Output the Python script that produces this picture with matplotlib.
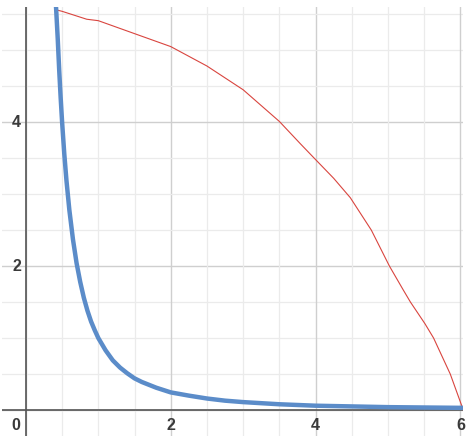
import matplotlib
matplotlib.use("Agg")
import matplotlib.pyplot as plt

# Blue curve (thick)
blue_x = [0.415, 0.44, 0.46, 0.48, 0.50, 0.53, 0.56, 0.60, 0.65, 0.70, 0.75, 0.80,
          0.85, 0.90, 0.95, 1.00, 1.10, 1.20, 1.30, 1.40, 1.50, 1.60, 1.80, 2.00,
          2.25, 2.50, 2.75, 3.00, 3.50, 4.00, 4.50, 5.00, 5.50, 6.04]
blue_y = [5.62, 5.15, 4.72, 4.34, 4.00, 3.56, 3.19, 2.78, 2.37, 2.04, 1.78, 1.56,
          1.38, 1.23, 1.11, 1.00, 0.83, 0.69, 0.59, 0.51, 0.44, 0.39, 0.31, 0.245,
          0.20, 0.16, 0.13, 0.11, 0.08, 0.06, 0.05, 0.04, 0.035, 0.03]

# Red curve (thin)
red_x = [0.42, 0.50, 0.84, 1.00, 1.50, 2.00, 2.50, 3.00, 3.50, 3.79, 4.00, 4.25,
         4.48, 4.77, 5.02, 5.21, 5.31, 5.51, 5.63, 5.86, 6.04]
red_y = [5.56, 5.54, 5.43, 5.41, 5.23, 5.05, 4.78, 4.45, 4.01, 3.70, 3.48, 3.22,
         2.95, 2.50, 2.00, 1.67, 1.50, 1.20, 1.00, 0.50, 0.00]

x_labels = ["2", "4", "6"]
x_label_pos = [2, 4, 6]
y_labels = ["2", "4"]
y_label_pos = [2, 4]

W, H = 474, 436
fig = plt.figure(figsize=(W / 100, H / 100), dpi=100)
fig.patch.set_facecolor("white")
ax = fig.add_axes([2 / W, 0, 461 / W, 429 / H])
ax.set_xlim(-0.33, 6.036)
ax.set_ylim(-0.361, 5.6)
for s in ax.spines.values():
    s.set_visible(False)
ax.set_xticks([])
ax.set_yticks([])

# grid
minor = [i * 0.5 for i in range(-1, 14)]
for v in minor:
    major = abs(v / 2 - round(v / 2)) < 1e-9
    col = "#cfcfcf" if major else "#ebebeb"
    lw = 1.0 if major else 0.9
    ax.axvline(v, color=col, lw=lw, zorder=0)
    ax.axhline(v, color=col, lw=lw, zorder=0)

# axes
ax.axvline(0, color="#555555", lw=1.2, zorder=1)
ax.axhline(0, color="#555555", lw=1.2, zorder=1)

ax.plot(red_x, red_y, color="#d9453f", lw=0.8, zorder=3, solid_joinstyle="round")
ax.plot(blue_x, blue_y, color="#5b8cc9", lw=3.2, zorder=4,
        solid_capstyle="butt", solid_joinstyle="round")

font = dict(family=["Liberation Sans", "DejaVu Sans"], fontsize=11.5,
            fontweight="bold", color="#3a3a3a")
for p, t in zip(x_label_pos, x_labels):
    ax.annotate(t, (p, 0), xytext=(0, -8), textcoords="offset pixels",
                ha="center", va="top", **font)
for p, t in zip(y_label_pos, y_labels):
    ax.annotate(t, (0, p), xytext=(-5, 0), textcoords="offset pixels",
                ha="right", va="center", **font)
ax.annotate("0", (0, 0), xytext=(-6, -8), textcoords="offset pixels",
            ha="right", va="top", **font)

fig.savefig("out.png", dpi=100, facecolor="white")
